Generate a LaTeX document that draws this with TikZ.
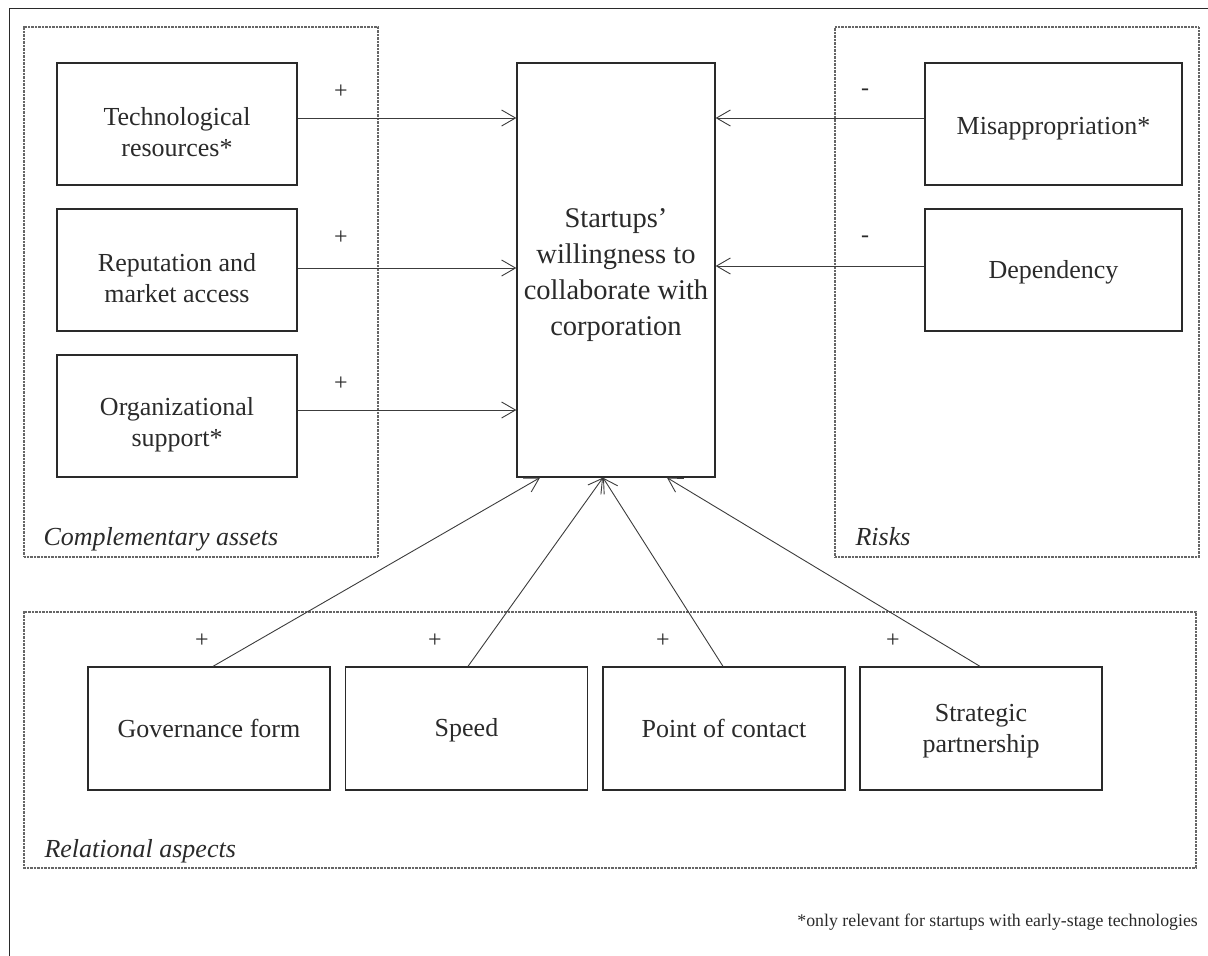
\documentclass[tikz,border=0pt]{standalone}
\usepackage{fontspec}
\setmainfont{Liberation Serif}
\usetikzlibrary{arrows.meta}
\definecolor{ink}{HTML}{2A2A2A}
\definecolor{linec}{HTML}{3C3C3C}
\begin{document}
\begin{tikzpicture}[x=1pt,y=-1pt,
  box/.style={draw=ink,line width=1.3pt,rectangle,inner sep=0pt},
  txt/.style={inner sep=0pt,align=center,text=ink,font=\fontsize{26}{31}\selectfont},
  grp/.style={draw=gray!80!black,line width=1.2pt,dash pattern=on 0.8pt off 0.6pt,rectangle,inner sep=0pt},
  glabel/.style={anchor=base west,text=ink,font=\fontsize{26}{31}\selectfont\itshape},
  sign/.style={text=ink,font=\fontsize{24}{28}\selectfont,inner sep=0pt},
  arr/.style={draw=linec,line width=0.9pt,-{Straight Barb[angle=60:16pt,line width=0.9pt]}}
]
\useasboundingbox (0,0) rectangle (1208,956);
% outer frame
\coordinate (fbl) at (9,956);
\coordinate (ftl) at (9,8);
\coordinate (ftr) at (1208,8);
\draw[draw=ink,line width=1pt] (fbl) -- (ftl) -- (ftr);
% groups
\node[grp,minimum width=354pt,minimum height=530pt] (comp) at (201,292) {};
\node[grp,minimum width=364pt,minimum height=530pt] (risk) at (1017,292) {};
\node[grp,minimum width=1172pt,minimum height=256pt] (rel) at (610,740) {};
\node[glabel] (compl) at (40,545) {Complementary assets};
\node[glabel] (riskl) at (852,545) {Risks};
\node[glabel] (rell) at (41,857) {Relational aspects};
% left boxes
\node[box,minimum width=240pt,minimum height=122pt] (tech) at (177,124) {};
\node[box,minimum width=240pt,minimum height=122pt] (rep) at (177,270) {};
\node[box,minimum width=240pt,minimum height=122pt] (org) at (177,416) {};
\node[txt] (techt) at ([yshift=-8pt]tech.center) {Technological\\resources*};
\node[txt] (rept) at ([yshift=-8pt]rep.center) {Reputation and\\market access};
\node[txt] (orgt) at ([yshift=-9pt]org.center) {Organizational\\support*};
% center
\node[box,minimum width=198pt,minimum height=414pt] (ctr) at (616,270) {};
\node[txt,font=\fontsize{28.5}{36}\selectfont] (ctrt) at ([yshift=-5pt]ctr.center) {Startups'\\willingness to\\collaborate with\\corporation};
% right boxes
\node[box,minimum width=257pt,minimum height=122pt] (mis) at (1053.5,124) {};
\node[box,minimum width=257pt,minimum height=122pt] (dep) at (1053.5,270) {};
\node[txt] (mist) at ([yshift=-5pt]mis.center) {Misappropriation*};
\node[txt] (dept) at ([yshift=-2pt]dep.center) {Dependency};
% bottom boxes
\node[box,minimum width=242pt,minimum height=123pt] (gov) at (209,728.5) {};
\node[box,minimum width=242pt,minimum height=123pt] (spd) at (466.5,728.5) {};
\node[box,minimum width=242pt,minimum height=123pt] (poc) at (724,728.5) {};
\node[box,minimum width=242pt,minimum height=123pt] (str) at (981,728.5) {};
\node[txt] (govt) at (gov.center) {Governance form};
\node[txt] (spdt) at ([yshift=-2pt]spd.center) {Speed};
\node[txt] (poct) at (poc.center) {Point of contact};
\node[txt] (strt) at ([yshift=-3pt]str.center) {Strategic\\partnership};
% arrows
\draw[arr] ([yshift=6pt]tech.east) -- ([yshift=6pt]tech.east -| ctr.west);
\draw[arr] ([yshift=2pt]rep.east) -- ([yshift=2pt]rep.east -| ctr.west);
\draw[arr] ([yshift=6pt]org.east) -- ([yshift=6pt]org.east -| ctr.west);
\draw[arr] ([yshift=6pt]mis.west) -- ([yshift=6pt]mis.west -| ctr.east);
\draw[arr] ([yshift=4pt]dep.west) -- ([yshift=4pt]dep.west -| ctr.east);
\draw[arr] ([xshift=4pt]gov.north) -- ([xshift=-76pt]ctr.south);
\draw[arr] ([xshift=1.5pt]spd.north) -- ([xshift=-13pt]ctr.south);
\draw[arr] ([xshift=-1pt]poc.north) -- ([xshift=-13pt]ctr.south);
\draw[arr] ([xshift=-1pt]str.north) -- ([xshift=51pt]ctr.south);
% signs
\node[sign] (s1) at (341,92) {+};
\node[sign] (s2) at (341,238) {+};
\node[sign] (s3) at (341,384) {+};
\node[sign] (s4) at (865,92) {-};
\node[sign] (s5) at (865,239) {-};
\node[sign] (s6) at (202,641) {+};
\node[sign] (s7) at (435,641) {+};
\node[sign] (s8) at (663,641) {+};
\node[sign] (s9) at (893,641) {+};
% footnote
\node[anchor=base east,text=ink,font=\fontsize{17.8}{22}\selectfont,inner sep=0pt] (foot) at (1198,926) {*only relevant for startups with early-stage technologies};
\end{tikzpicture}
\end{document}
